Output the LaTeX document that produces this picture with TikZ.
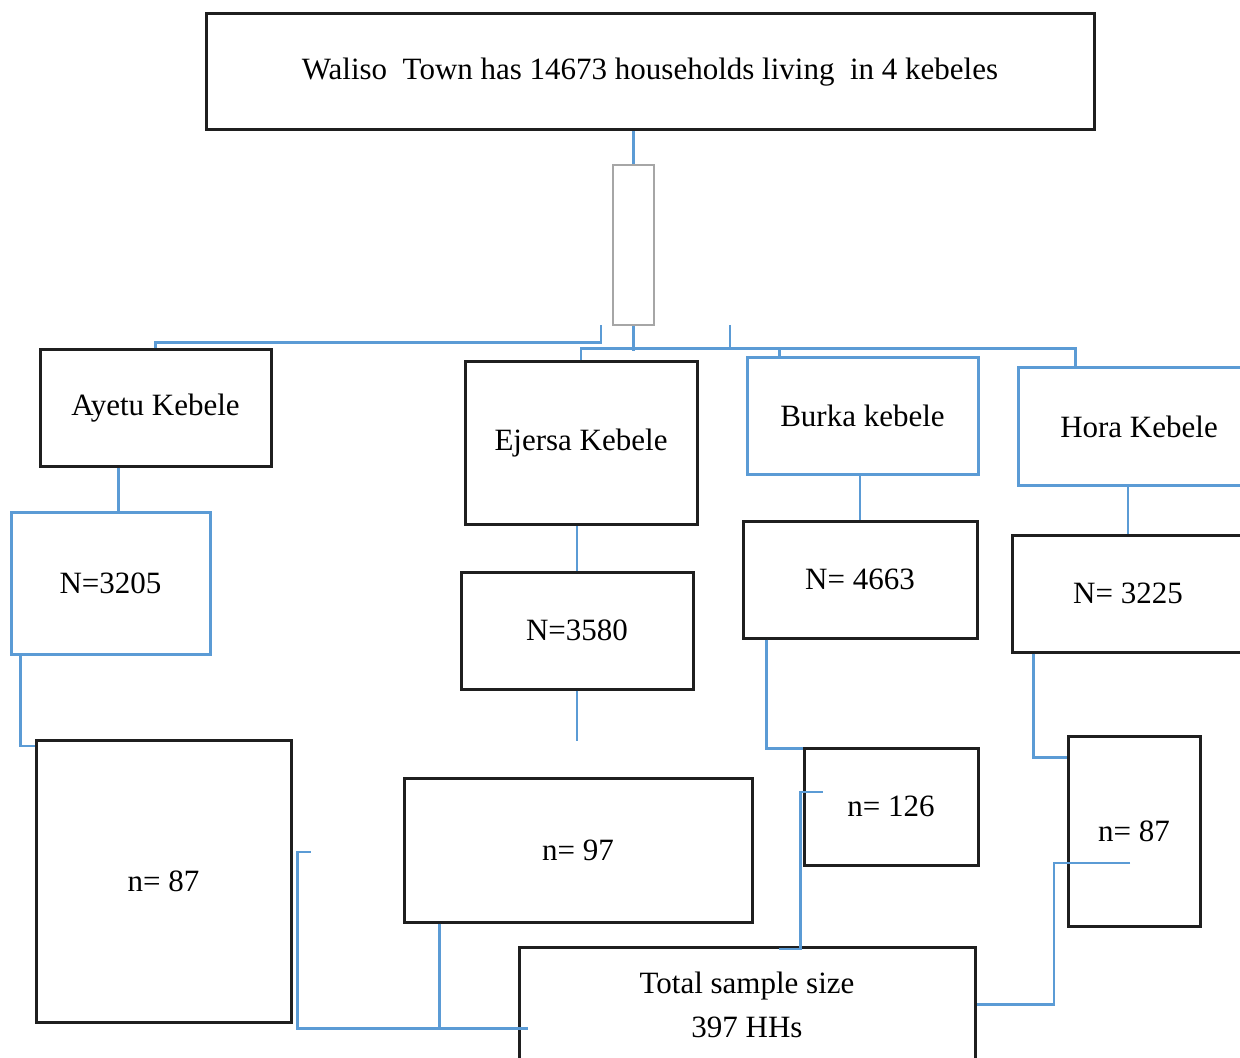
\documentclass[tikz,border=0pt]{standalone}
\usepackage{fontspec}
\setmainfont{Liberation Serif}
\usepackage{tikz}
\usetikzlibrary{calc,positioning}
\definecolor{linkblue}{HTML}{5B9BD5}

\begin{document}
\begin{tikzpicture}[
                x=0.5pt, y=-0.5pt,
                every node/.append style={font=\fontsize{15.5}{22}\selectfont},
                box/.style={rectangle,draw=black!88,line width=1.5pt,inner sep=0pt,align=center},
                bluebox/.style={box,draw=linkblue},
                stembox/.style={rectangle,draw=black!35,line width=1.1pt,inner sep=0pt},
                link/.style={draw=linkblue,line width=1.4pt}
            ]
                \useasboundingbox (0,0) rectangle (1240,1058);
                \clip (0,0) rectangle (1240,1058);

                \node[box, minimum width=444pt, minimum height=58pt] (town) at (650,72)
                    {\raisebox{-2pt}{Waliso\ \ Town has 14673 households living\ \ in 4 kebeles}};
                \node[stembox, minimum width=20.5pt, minimum height=80pt] (stem) at (633.5,245) {};

                \node[box, minimum width=115.5pt, minimum height=58pt] (ayetu) at (155.5,408) {Ayetu Kebele};
                \node[box, minimum width=116pt, minimum height=81pt] (ejersa) at (581,443) {Ejersa Kebele};
                \node[bluebox, minimum width=115.5pt, minimum height=58pt] (burka) at (862.5,416) {Burka kebele};
                \node[bluebox, minimum width=121pt, minimum height=58.5pt] (hora) at (1139,426.5) {Hora Kebele};

                \node[bluebox, minimum width=99.5pt, minimum height=71pt] (Nayetu) at (110.5,583) {N=3205};
                \node[box, minimum width=116pt, minimum height=58.5pt] (Nejersa) at (577,630.5) {N=3580};
                \node[box, minimum width=117pt, minimum height=58.5pt] (Nburka) at (860,579.5) {N= 4663};
                \node[box, minimum width=116pt, minimum height=58.5pt] (Nhora) at (1128,593.5) {N= 3225};

                \node[box, minimum width=127.5pt, minimum height=141pt] (nayetu) at (163.5,881.5) {n= 87};
                \node[box, minimum width=174pt, minimum height=72pt] (nejersa) at (578,850) {n= 97};
                \node[box, minimum width=87pt, minimum height=58.5pt] (nburka) at (891,806.5) {n= 126};
                \node[box, minimum width=66pt, minimum height=95pt] (nhora) at (1134,831) {n= 87};

                \node[box, minimum width=228pt, minimum height=57.5pt] (total) at (747,1004.5)
                    {Total sample size\\397 HHs};

                \coordinate (tickL) at (601,325);
                \coordinate (tickR) at (730,325);

                \draw[link] (stem.north) -- (stem.north |- town.south);
                \draw[link] (stem.south) -- ++(0,25);
                \draw[link] (ejersa.north) -- ++(0,-12) -| ([xshift=29.5pt]hora.north west);
                \draw[link] ([xshift=17pt]burka.north west) -- ++(0,-8);
                \draw[link] (tickR) -- ++(0,25);
                \draw[link] (ayetu.north) -- ++(0,-6) -| (tickL);

                \draw[link] ([xshift=40pt]ayetu.south west) -- ++(0,46);
                \draw[link] (Nejersa.north) -- (Nejersa.north |- ejersa.south);
                \draw[link] (Nburka.north) -- (Nburka.north |- burka.south);
                \draw[link] (Nhora.north) -- (Nhora.north |- hora.south);

                \draw[link] ([xshift=5.5pt]Nayetu.south west) |- ([yshift=-3.5pt]nayetu.north west);
                \draw[link] (Nejersa.south) -- ++(0,50);
                \draw[link] ([xshift=12.5pt]Nburka.south west) |- ([yshift=-1pt]nburka.north west);
                \draw[link] ([xshift=11.5pt]Nhora.south west) |- ([yshift=-11.5pt]nhora.north west);

                \draw[link] ([shift={(9pt,14.75pt)}]nayetu.east) -- ++(-13,0) |- ([shift={(5pt,17.5pt)}]total.south west);
                \draw[link] ([xshift=18.5pt]nejersa.south west) -- ++(0,105);
                \draw[link] ([shift={(10pt,7.25pt)}]nburka.west) -- ++(-22,0) -- ++(0,157) -- ++(-22,0);
                \draw[link] ([shift={(-2pt,-16pt)}]nhora.center) -- ++(-76,0) |- (total.east);
            \end{tikzpicture}
\end{document}
